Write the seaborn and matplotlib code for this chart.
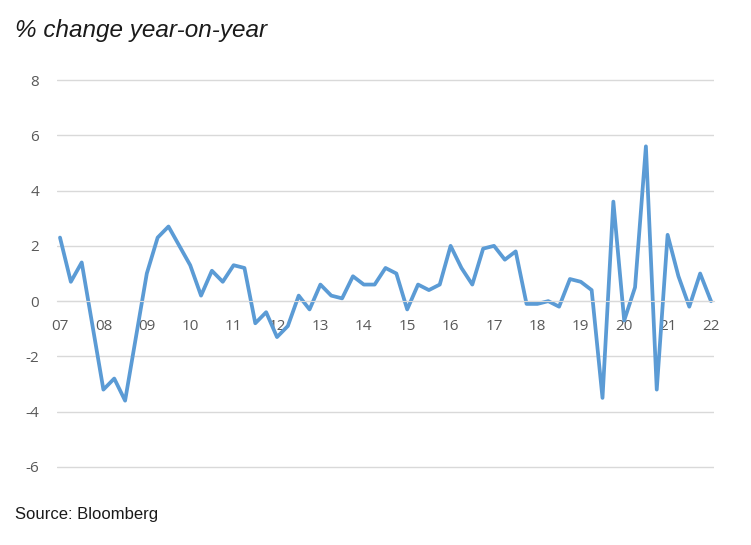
import pandas as pd
import seaborn as sns
import matplotlib.pyplot as plt

# quarterly % change year-on-year, 2007Q1 .. 2022Q1
quarters = pd.period_range("2007Q1", "2022Q1", freq="Q")
values = [2.3, 0.7, 1.4, -0.9, -3.2, -2.8, -3.6, -1.3,
          1.0, 2.3, 2.7, 2.0, 1.3, 0.2, 1.1, 0.7,
          1.3, 1.2, -0.8, -0.4, -1.3, -0.9, 0.2, -0.3,
          0.6, 0.2, 0.1, 0.9, 0.6, 0.6, 1.2, 1.0,
          -0.3, 0.6, 0.4, 0.6, 2.0, 1.2, 0.6, 1.9,
          2.0, 1.5, 1.8, -0.1, -0.1, 0.0, -0.2, 0.8,
          0.7, 0.4, -3.5, 3.6, -0.7, 0.5, 5.6, -3.2,
          2.4, 0.9, -0.2, 1.0, 0.0]
year_ticks = list(range(2007, 2023))
year_labels = [f"{y % 100:02d}" for y in year_ticks]
y_ticks = [-6, -4, -2, 0, 2, 4, 6, 8]

df = pd.DataFrame({"t": quarters.year + (quarters.quarter - 1) / 4, "v": values})

sns.set_style("white")
plt.rcParams["font.family"] = ["Open Sans", "DejaVu Sans"]

fig = plt.figure(figsize=(7.51, 5.45), dpi=100)
# plot area: 8 -> y=80px, -6 -> y=467px, slightly padded so edge gridlines show
upp = (467 - 80) / 14
top_px, bot_px = 80 - 0.1 * upp, 467 + 0.1 * upp
ax = fig.add_axes([57 / 751, 1 - bot_px / 545, (714 - 57) / 751, (bot_px - top_px) / 545])

sns.lineplot(data=df, x="t", y="v", ax=ax, color="#5B9BD5", linewidth=2.7)

ax.set_ylim(-6.1, 8.1)
pad = 3 / 10.85 / 4
ax.set_xlim(2007 - pad, 2022 + pad)
ax.set_yticks(y_ticks)
ax.set_yticklabels([str(v) for v in y_ticks])
ax.set_xticks(year_ticks)
ax.set_xticklabels(year_labels)
ax.set_xlabel("")
ax.set_ylabel("")

ax.grid(axis="y", color="#D9D9D9", linewidth=1)
ax.set_axisbelow(True)
for s in ["top", "right", "left"]:
    ax.spines[s].set_visible(False)
ax.spines["bottom"].set_position(("data", 0))
ax.spines["bottom"].set_color("#D9D9D9")
ax.tick_params(axis="x", colors="#D9D9D9", length=4, width=1, pad=9,
               labelcolor="#595959", labelsize=11)
ax.tick_params(axis="y", length=0, pad=13, labelcolor="#595959", labelsize=11)

fig.text(15 / 751, 1 - 31 / 545, "% change year-on-year", fontsize=17.5,
         style="italic", family="Liberation Sans", color="#1a1a1a", va="center")
fig.text(15 / 751, 1 - 515 / 545, "Source: Bloomberg", fontsize=12,
         family="Liberation Sans", color="#1a1a1a", va="center")

fig.savefig("out.png", dpi=100)
